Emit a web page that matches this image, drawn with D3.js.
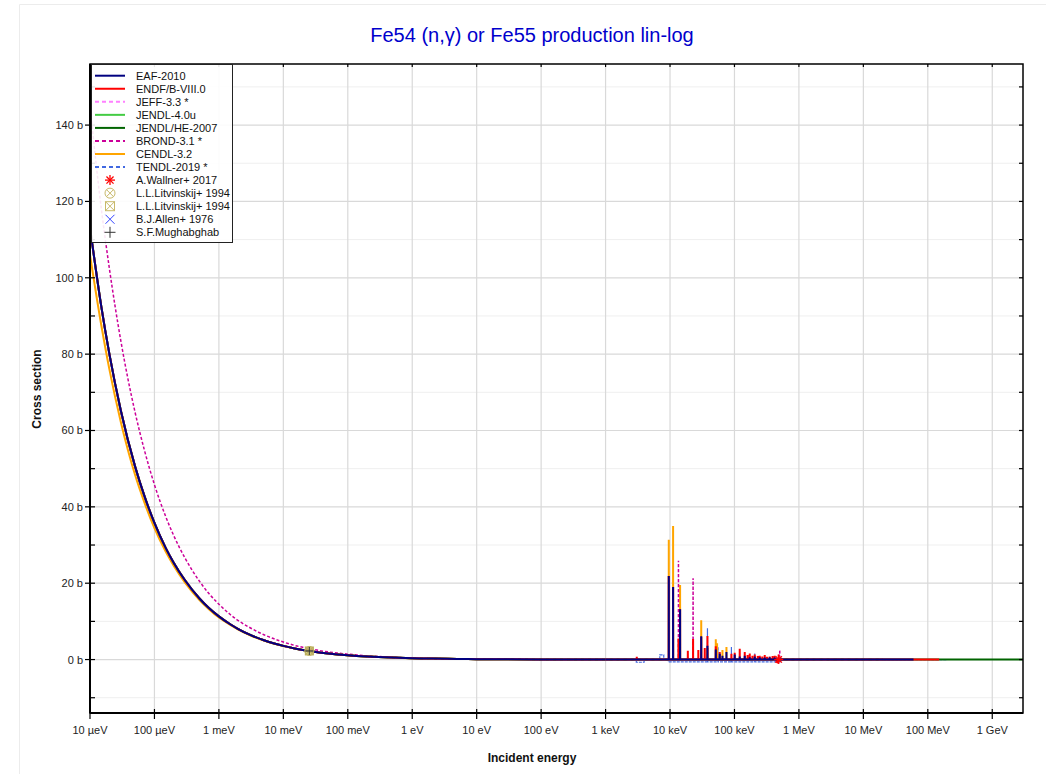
<!DOCTYPE html>
<html><head><meta charset="utf-8">
<script src="https://cdn.jsdelivr.net/npm/d3@7"></script>
<style>body{margin:0;background:#fff;} svg{display:block;font-family:"Liberation Sans",Arial,sans-serif;}</style>
</head><body>
<svg id="chart" width="1046" height="774"></svg>
<script>
// ---------------- DATA ----------------
const titleText = "Fe54 (n,\u03b3) or Fe55 production lin-log";
const seriesNames = ["EAF-2010", "ENDF/B-VIII.0", "JEFF-3.3 *", "JENDL-4.0u", "JENDL/HE-2007", "BROND-3.1 *", "CENDL-3.2", "TENDL-2019 *"];
const seriesEndE = [6e7, 1.5e8, 2e7, 2e7, 3e9, 2e7, 2e7, 2e8];

const xTickValues = [1e-5, 1e-4, 1e-3, 1e-2, 1e-1, 1, 10, 100, 1e3, 1e4, 1e5, 1e6, 1e7, 1e8, 1e9];
const xTickLabels = ["10 \u00b5eV", "100 \u00b5eV", "1 meV", "10 meV", "100 meV", "1 eV", "10 eV", "100 eV", "1 keV", "10 keV", "100 keV", "1 MeV", "10 MeV", "100 MeV", "1 GeV"];
const yTickValues = [0, 20, 40, 60, 80, 100, 120, 140];
const yTickLabels = ["0 b", "20 b", "40 b", "60 b", "80 b", "100 b", "120 b", "140 b"];
const yMinorValues = [-10, 10, 30, 50, 70, 90, 110, 130, 150];

// low-energy (smooth) region, energies in eV, cross sections in b
const thermalE = [1e-5, 1.5e-5, 2e-5, 3e-5, 5e-5, 7e-5, 1e-4, 1.5e-4, 2e-4, 3e-4, 5e-4, 7e-4, 1e-3, 1.5e-3, 2e-3, 3e-3, 5e-3, 7e-3, 1e-2, 1.5e-2, 2e-2, 3e-2, 5e-2, 7e-2, 0.1, 0.2, 0.5, 1, 2, 5, 10, 100, 1000];
const eafThermal   = [113.2, 92.4, 80.0, 65.3, 50.6, 42.8, 35.8, 29.2, 25.3, 20.7, 16.0, 13.5, 11.3, 9.24, 8.0, 6.53, 5.06, 4.28, 3.58, 2.92, 2.53, 2.07, 1.60, 1.35, 1.13, 0.80, 0.51, 0.36, 0.25, 0.16, 0.11, 0.04, 0.015];
const cendlThermal = [106.0, 87.5, 76.0, 62.3, 48.4, 41.1, 34.4, 28.2, 24.5, 20.1, 15.6, 13.2, 11.0, 9.05, 7.85, 6.42, 4.98, 4.22, 3.53, 2.88, 2.50, 2.05, 1.58, 1.34, 1.12, 0.79, 0.50, 0.36, 0.25, 0.16, 0.11, 0.04, 0.015];
const brondThermal = [145.0, 118.0, 102.4, 83.6, 64.8, 54.8, 45.8, 37.4, 32.4, 26.5, 20.5, 17.3, 14.5, 11.8, 10.2, 8.4, 6.5, 5.5, 4.6, 3.7, 3.2, 2.6, 2.0, 1.7, 1.42, 0.98, 0.60, 0.42, 0.29, 0.18, 0.12, 0.04, 0.015];

// high-energy baseline
const tailE     = [1e3, 8e3, 6e5, 1e6, 1e7, 2e7, 6e7, 1.5e8, 2e8, 3e9];
const tailSigma = [0.015, 0.01, 0.01, 0.004, 0.001, 0.0008, 0.0005, 0.0004, 0.0003, 0.0002];
const tendlTailE     = [1e3, 3.0e3, 3.0e3, 3.96e3, 3.96e3, 6.94e3, 6.94e3, 8.0e3, 8.0e3, 9.4e3, 9.4e3, 5.1e5, 5.1e5, 1e6, 1e7, 2e7, 1e8, 2e8];
const tendlTailSigma = [0.015, 0.01, -0.7, -0.7, 0.01, 0.01, 1.2, 1.2, 0.01, 0.01, -0.6, -0.6, 0.01, 0.004, 0.001, 0.0008, 0.0004, 0.0003];

// resonance peaks (eV, b)
const eafPeakE   = [9.57e3, 11.16e3, 14.33e3, 30.5e3, 38.1e3, 51.3e3, 59.1e3, 65.1e3, 75.1e3, 100.9e3, 120.7e3, 144.4e3, 172.7e3, 206.5e3, 246.8e3, 295e3, 352e3, 421e3];
const eafPeakS   = [21.9, 19.0, 13.2, 6.1, 3.6, 2.6, 1.5, 1.0, 2.0, 1.3, 0.8, 1.0, 0.6, 0.8, 0.6, 0.5, 0.6, 0.5];
const endfPeakE  = [3.05e3, 9.57e3, 11.16e3, 13.52e3, 14.33e3, 18.9e3, 22.8e3, 27.5e3, 30.5e3, 34.6e3, 38.1e3, 51.3e3, 59.1e3, 89.7e3, 100.9e3, 120.7e3, 144.4e3, 160e3, 172.7e3, 190e3, 206.5e3, 230e3, 246.8e3, 270e3, 295e3, 320e3, 352e3, 390e3, 421e3, 450e3, 470e3, 485e3, 504e3];
const endfPeakS  = [0.7, 21.9, 19.0, 5.5, 13.2, 2.3, 5.4, 2.5, 6.0, 3.0, 6.2, 3.5, 2.0, 1.5, 1.8, 2.8, 2.0, 1.2, 1.6, 1.0, 1.3, 0.9, 1.0, 0.8, 1.2, 0.7, 0.8, 0.9, 1.0, -0.8, -1.0, 1.3, -0.6];
const jeffPeakE  = [230e3, 490e3];
const jeffPeakS  = [1.0, 1.8];
const jendlPeakE = [475e3];
const jendlPeakS = [-0.8];
const jendlhePeakE = [];
const jendlhePeakS = [];
const brondPeakE = [13.52e3, 22.8e3, 504e3];
const brondPeakS = [25.9, 21.3, 2.6];
const cendlPeakE = [9.57e3, 11.16e3, 14.33e3, 30.5e3, 38.1e3, 51.3e3, 53.7e3, 65.1e3, 75.1e3];
const cendlPeakS = [31.4, 35.0, 19.5, 10.3, 3.0, 5.3, 4.3, 2.5, 3.3];
const tendlPeakE = [38.1e3, 55.6e3, 89.7e3, 206.5e3];
const tendlPeakS = [8.2, 3.3, 3.3, 1.6];

// experimental points
const wallnerE = [4.86e5], wallnerS = [0.03];
const litvCircE = [0.0253], litvCircS = [2.25];
const litvSqE = [0.0253], litvSqS = [2.25];
const mughE = [0.0253], mughS = [2.25];

// ---------------- LAYOUT / STYLE ----------------
const seriesColors = ["#000080", "#ff0000", "#ff80ff", "#44cc44", "#006400", "#cc0099", "#ffa500", "#4169e1"];
const seriesDash = [null, null, "4,3", null, null, "3,2", null, "4,3"];
const tailDash = [null, null, "4,3", null, null, "3,2", null, "3,1"];
const seriesWidth = [2, 2, 1.5, 2, 2, 1.5, 2, 1.5];

const L = 90, R = 1023, T = 64, B = 713;
const svg = d3.select("#chart");
const x = d3.scaleLog().domain([1e-5, 3e9]).range([L, R]);
const y = d3.scaleLinear().domain([-14, 156]).range([B, T]);

// faint outer border
svg.append("line").attr("x1", 19.5).attr("x2", 1046).attr("y1", 4.5).attr("y2", 4.5).attr("stroke", "#ececec");
svg.append("line").attr("x1", 19.5).attr("x2", 19.5).attr("y1", 4.5).attr("y2", 774).attr("stroke", "#ececec");

// title
svg.append("text").attr("x", 532).attr("y", 42).attr("text-anchor", "middle")
  .attr("font-size", 20).attr("fill", "#0000cc").text(titleText);

// grid
const grid = svg.append("g");
grid.selectAll(".ym").data(yMinorValues).enter().append("line")
  .attr("x1", L).attr("x2", R).attr("y1", d => y(d)).attr("y2", d => y(d))
  .attr("stroke", "#efefef").attr("stroke-width", 1);
grid.selectAll(".yM").data(yTickValues).enter().append("line")
  .attr("x1", L).attr("x2", R).attr("y1", d => y(d)).attr("y2", d => y(d))
  .attr("stroke", "#d9d9d9").attr("stroke-width", 1.2);
grid.selectAll(".xM").data(xTickValues).enter().append("line")
  .attr("x1", d => x(d)).attr("x2", d => x(d)).attr("y1", T).attr("y2", B)
  .attr("stroke", "#d9d9d9").attr("stroke-width", 1.2);

// clip
svg.append("clipPath").attr("id", "clip").append("rect")
  .attr("x", L).attr("y", T).attr("width", R - L).attr("height", B - T);
const plot = svg.append("g").attr("clip-path", "url(#clip)");

function interpBase(E, Es, Ss) {
  for (let i = 0; i < Es.length - 1; i++) {
    if (E >= Es[i] && E < Es[i + 1]) {
      const t = (Math.log(E) - Math.log(Es[i])) / (Math.log(Es[i + 1]) - Math.log(Es[i]) || 1);
      return Ss[i] + t * (Ss[i + 1] - Ss[i]);
    }
  }
  return Ss[Ss.length - 1];
}

function buildTail(Es, Ss, peakE, peakS, endE) {
  const pts = [];
  Es.forEach((e, i) => { if (e <= endE) pts.push([e, Ss[i]]); });
  if (pts[pts.length - 1][0] < endE) pts.push([endE, interpBase(endE, Es, Ss)]);
  peakE.forEach((e, i) => {
    const b = interpBase(e, Es, Ss);
    pts.push([e / 1.002, b], [e, peakS[i]], [e * 1.002, b]);
  });
  pts.sort((a, b) => a[0] - b[0]);
  return pts;
}

const thermals = [eafThermal, eafThermal, eafThermal, eafThermal, eafThermal, brondThermal, cendlThermal, eafThermal];
const peaksE = [eafPeakE, endfPeakE, jeffPeakE, jendlPeakE, jendlhePeakE, brondPeakE, cendlPeakE, tendlPeakE];
const peaksS = [eafPeakS, endfPeakS, jeffPeakS, jendlPeakS, jendlhePeakS, brondPeakS, cendlPeakS, tendlPeakS];
const tailsE = [tailE, tailE, tailE, tailE, tailE, tailE, tailE, tendlTailE];
const tailsS = [tailSigma, tailSigma, tailSigma, tailSigma, tailSigma, tailSigma, tailSigma, tendlTailSigma];

const smoothLine = d3.line().x(d => x(d[0])).y(d => y(d[1])).curve(d3.curveMonotoneX);
const linLine = d3.line().x(d => x(d[0])).y(d => y(d[1]));

const drawOrder = [7, 6, 5, 4, 3, 2, 1, 0];
drawOrder.forEach(i => {
  const th = thermalE.map((e, k) => [e, thermals[i][k]]);
  const tail = buildTail(tailsE[i], tailsS[i], peaksE[i], peaksS[i], seriesEndE[i]);
  const p1 = plot.append("path").attr("d", smoothLine(th)).attr("fill", "none")
    .attr("stroke", seriesColors[i]).attr("stroke-width", seriesWidth[i]);
  if (seriesDash[i]) p1.attr("stroke-dasharray", seriesDash[i]);
  const p2 = plot.append("path").attr("d", linLine(tail)).attr("fill", "none")
    .attr("stroke", seriesColors[i]).attr("stroke-width", i === 7 ? 1.2 : seriesWidth[i]);
  if (tailDash[i]) p2.attr("stroke-dasharray", tailDash[i]);
});

// markers
function asterisk(g, cx, cy, r, color) {
  for (let a = 0; a < 4; a++) {
    const ang = a * Math.PI / 4;
    g.append("line").attr("x1", cx - r * Math.cos(ang)).attr("y1", cy - r * Math.sin(ang))
      .attr("x2", cx + r * Math.cos(ang)).attr("y2", cy + r * Math.sin(ang))
      .attr("stroke", color).attr("stroke-width", 1.3);
  }
}
function crossX(g, cx, cy, r, color, w) {
  g.append("line").attr("x1", cx - r).attr("y1", cy - r).attr("x2", cx + r).attr("y2", cy + r).attr("stroke", color).attr("stroke-width", w);
  g.append("line").attr("x1", cx - r).attr("y1", cy + r).attr("x2", cx + r).attr("y2", cy - r).attr("stroke", color).attr("stroke-width", w);
}
function plus(g, cx, cy, r, color) {
  g.append("line").attr("x1", cx - r).attr("y1", cy).attr("x2", cx + r).attr("y2", cy).attr("stroke", color).attr("stroke-width", 1);
  g.append("line").attr("x1", cx).attr("y1", cy - r).attr("x2", cx).attr("y2", cy + r).attr("stroke", color).attr("stroke-width", 1);
}
function circX(g, cx, cy, r, color) {
  g.append("circle").attr("cx", cx).attr("cy", cy).attr("r", r).attr("fill", "none").attr("stroke", color).attr("stroke-width", 1);
  crossX(g, cx, cy, r * 0.7, color, 1);
}
function sqX(g, cx, cy, r, color, fill) {
  g.append("rect").attr("x", cx - r).attr("y", cy - r).attr("width", 2 * r).attr("height", 2 * r)
    .attr("fill", fill).attr("stroke", color).attr("stroke-width", 1);
  crossX(g, cx, cy, r, color, 1);
}
const olive = "#c8b96a";
litvCircE.forEach((e, i) => circX(plot, x(e), y(litvCircS[i]), 4.5, olive));
litvSqE.forEach((e, i) => sqX(plot, x(e), y(litvSqS[i]), 4, "#b8ad5a", "rgba(200,190,100,0.8)"));
mughE.forEach((e, i) => plus(plot, x(e), y(mughS[i]), 4, "#333"));
wallnerE.forEach((e, i) => asterisk(plot, x(e), y(wallnerS[i]), 4.5, "#ff0000"));

// frame
svg.append("rect").attr("x", L).attr("y", T).attr("width", R - L).attr("height", B - T)
  .attr("fill", "none").attr("stroke", "#000").attr("stroke-width", 1.5);
svg.append("line").attr("x1", L).attr("x2", L).attr("y1", T).attr("y2", B).attr("stroke", "#000").attr("stroke-width", 2);
svg.append("line").attr("x1", L).attr("x2", R).attr("y1", B).attr("y2", B).attr("stroke", "#000").attr("stroke-width", 2);

// ticks
const ax = svg.append("g").attr("stroke", "#000").attr("stroke-width", 1.2);
yTickValues.forEach(v => {
  ax.append("line").attr("x1", L - 5).attr("x2", L + 5).attr("y1", y(v)).attr("y2", y(v));
});
yMinorValues.forEach(v => {
  ax.append("line").attr("x1", L).attr("x2", L + 5).attr("y1", y(v)).attr("y2", y(v));
});
yTickValues.concat(yMinorValues).forEach(v => {
  ax.append("line").attr("x1", R - 4).attr("x2", R).attr("y1", y(v)).attr("y2", y(v));
});
xTickValues.forEach(v => {
  ax.append("line").attr("x1", x(v)).attr("x2", x(v)).attr("y1", B - 4).attr("y2", B + 6);
  ax.append("line").attr("x1", x(v)).attr("x2", x(v)).attr("y1", T).attr("y2", T + 3);
});

// tick labels
svg.append("g").selectAll("text").data(yTickValues).enter().append("text")
  .attr("x", L - 7).attr("y", d => y(d) + 4).attr("text-anchor", "end")
  .attr("font-size", 11).attr("fill", "#222").text((d, i) => yTickLabels[i]);
svg.append("g").selectAll("text").data(xTickValues).enter().append("text")
  .attr("x", d => x(d)).attr("y", 734).attr("text-anchor", "middle")
  .attr("font-size", 11).attr("fill", "#222").text((d, i) => xTickLabels[i]);

// axis titles
svg.append("text").attr("x", 532).attr("y", 762).attr("text-anchor", "middle")
  .attr("font-size", 12).attr("font-weight", "bold").attr("fill", "#111").text("Incident energy");
svg.append("text").attr("transform", "translate(41,389) rotate(-90)").attr("text-anchor", "middle")
  .attr("font-size", 12).attr("font-weight", "bold").attr("fill", "#111").text("Cross section");

// legend
const lg = svg.append("g");
lg.append("rect").attr("x", 91.5).attr("y", 64.5).attr("width", 141).attr("height", 178)
  .attr("fill", "#fff").attr("fill-opacity", 0.9).attr("stroke", "#222").attr("stroke-width", 1);
const rowY = i => 75.7 + i * 13.05;
seriesNames.forEach((n, i) => {
  const l = lg.append("line").attr("x1", 95).attr("x2", 125).attr("y1", rowY(i)).attr("y2", rowY(i))
    .attr("stroke", seriesColors[i]).attr("stroke-width", 2);
  if (seriesDash[i]) l.attr("stroke-dasharray", "4,3");
  lg.append("text").attr("x", 136).attr("y", rowY(i) + 4).attr("font-size", 11).attr("fill", "#111").text(n);
});
const expNames = ["A.Wallner+ 2017", "L.L.Litvinskij+ 1994", "L.L.Litvinskij+ 1994", "B.J.Allen+ 1976", "S.F.Mughabghab"];
expNames.forEach((n, k) => {
  const i = k + 8, cy = rowY(i), cx = 110;
  if (k === 0) asterisk(lg, cx, cy, 5, "#ff0000");
  if (k === 1) circX(lg, cx, cy, 5, olive);
  if (k === 2) sqX(lg, cx, cy, 4.5, olive, "none");
  if (k === 3) crossX(lg, cx, cy, 4.5, "#3344ff", 1);
  if (k === 4) plus(lg, cx, cy, 5.5, "#333");
  lg.append("text").attr("x", 136).attr("y", cy + 4).attr("font-size", 11).attr("fill", "#111").text(n);
});
</script>
</body></html>
